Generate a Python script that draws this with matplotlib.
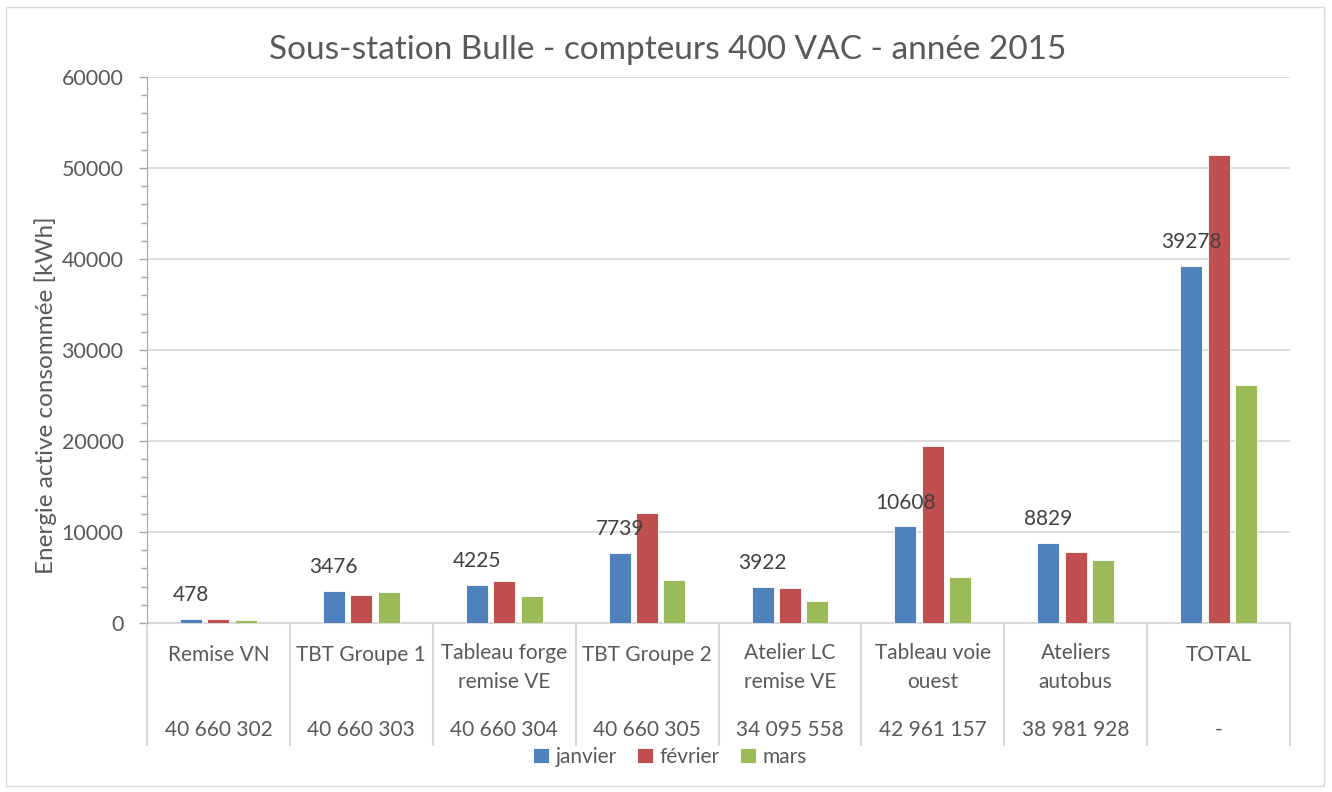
import numpy as np
import matplotlib
matplotlib.use("Agg")
import matplotlib.pyplot as plt
from matplotlib.patches import Rectangle

plt.rcParams["font.family"] = ["Lato", "DejaVu Sans"]

# data
names = ["Remise VN", "TBT Groupe 1", "Tableau forge\nremise VE", "TBT Groupe 2",
         "Atelier LC\nremise VE", "Tableau voie\nouest", "Ateliers\nautobus", "TOTAL"]
meters = ["40 660 302", "40 660 303", "40 660 304", "40 660 305",
          "34 095 558", "42 961 157", "38 981 928", "-"]
months = ["janvier", "février", "mars"]
janvier = [478, 3476, 4225, 7739, 3922, 10608, 8829, 39278]
fevrier = [400, 3100, 4600, 12100, 3850, 19400, 7800, 51400]
mars = [380, 3400, 3000, 4750, 2450, 5100, 6900, 26200]

colors = ["#4F81BD", "#C0504D", "#9BBB59"]
txt = "#595959"
grid = "#D9D9D9"

fig = plt.figure(figsize=(13.32, 7.92), dpi=100)
ax = fig.add_axes([147 / 1332, 1 - 623 / 792, 1143 / 1332, 546 / 792])

x = np.arange(len(names))
step, w = 0.192, 0.154
for i, (vals, c) in enumerate(zip([janvier, fevrier, mars], colors)):
    ax.bar(x + (i - 1) * step, vals, width=w, color=c, label=months[i],
           edgecolor="white", linewidth=0.6, zorder=3)

# data labels only on the first series
for xi, v in zip(x, janvier):
    ax.annotate(str(v), (xi - step, v), xytext=(0, 10), textcoords="offset points",
                ha="center", va="bottom", fontsize=15, color="#404040", zorder=4)

ax.set_xlim(-0.5, len(names) - 0.5)
ax.set_ylim(0, 60000)
ax.set_yticks(np.arange(0, 60001, 10000))
ax.set_yticks(np.arange(0, 60001, 2000), minor=True)
ax.yaxis.grid(True, color=grid, linewidth=1.3, zorder=0)
ax.tick_params(axis="y", which="major", length=6, width=1, color="#A6A6A6",
               labelsize=15.5, labelcolor=txt, pad=11)
ax.tick_params(axis="y", which="minor", length=4, width=1, color="#A6A6A6")
ax.set_xticks([])
for s in ["top", "right", "bottom"]:
    ax.spines[s].set_visible(False)
ax.spines["left"].set_color("#A6A6A6")

ax.set_ylabel("Energie active consommée [kWh]", fontsize=17.5, color=txt, va="center")
ax.yaxis.set_label_coords((46 - 147) / 1143, 0.418)

# multi-level category axis
tr = ax.get_xaxis_transform()
ax.plot([-0.5, len(names) - 0.5], [0, 0], color=grid, lw=1.5, transform=tr, clip_on=False)
for b in np.arange(-0.5, len(names)):
    ax.plot([b, b], [0, -0.2234], color=grid, lw=1.5, transform=tr, clip_on=False)
for xi, n, m in zip(x, names, meters):
    if "\n" in n:
        ax.text(xi, -0.0367, n, transform=tr, ha="center", va="top", fontsize=15,
                color=txt, linespacing=1.55)
    else:
        ax.text(xi, -0.0586, n, transform=tr, ha="center", va="center", fontsize=15,
                color=txt)
    ax.text(xi, -0.196, m, transform=tr, ha="center", va="center", fontsize=15, color=txt)

fig.text(668 / 1332, 1 - 50 / 792, "Sous-station Bulle - compteurs 400 VAC - année 2015",
         ha="center", va="center", fontsize=24, color=txt)

fig.legend(loc="center", bbox_to_anchor=(670 / 1332, 1 - 757 / 792), ncol=3,
           frameon=False, fontsize=15, handlelength=0.75, handleheight=0.75,
           handletextpad=0.3, columnspacing=1.0, labelcolor=txt)

fig.add_artist(Rectangle((6 / 1332, 1 - 786 / 792), 1318 / 1332, 779 / 792,
                         transform=fig.transFigure, fill=False, edgecolor="#D9D9D9", lw=1))

fig.savefig("out.png", dpi=100)
